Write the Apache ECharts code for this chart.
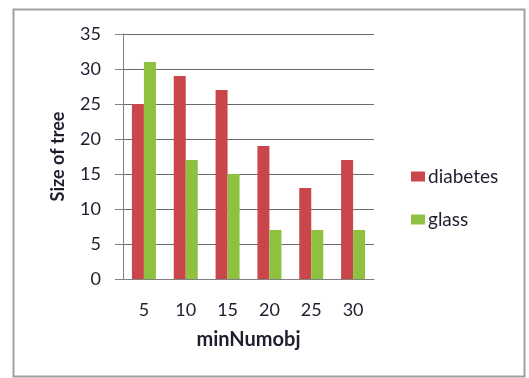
<!DOCTYPE html>
<html>
<head>
<meta charset="utf-8">
<script src="https://cdn.jsdelivr.net/npm/echarts@6/dist/echarts.min.js"></script>
<style>
  html, body { margin: 0; padding: 0; background: #fff; }
  #chart { width: 529px; height: 378px; }
</style>
</head>
<body>
<div id="chart"></div>
<script>
// minNumobj settings and resulting tree sizes
const categories = ['5', '10', '15', '20', '25', '30'];
const diabetes = [25, 29, 27, 19, 13, 17];
const glass = [31, 17, 15, 7, 7, 7];

const FONT = 'Lato, "Open Sans", sans-serif';
const TEXT = '#1e1e2e';
const chart = echarts.init(document.getElementById('chart'), null, { renderer: 'canvas' });

chart.setOption({
  backgroundColor: '#ffffff',
  animation: false,
  graphic: [{
    type: 'rect',
    shape: { x: 13.5, y: 9.5, width: 511, height: 367 },
    style: { fill: 'none', stroke: '#a0a0a0', lineWidth: 2 },
    silent: true
  }],
  grid: { left: 123, right: 155, top: 34, bottom: 99, containLabel: false },
  legend: {
    orient: 'vertical',
    left: 406,
    top: 162,
    itemWidth: 14,
    itemHeight: 10,
    itemGap: 24,
    icon: 'rect',
    textStyle: { fontFamily: FONT, fontSize: 19, color: TEXT, padding: [0, 0, 0, -2] },
    data: ['diabetes', 'glass']
  },
  xAxis: {
    type: 'category',
    data: categories,
    name: 'minNumobj',
    nameLocation: 'middle',
    nameGap: 51,
    nameTextStyle: { fontFamily: FONT, fontSize: 20, fontWeight: 'bold', color: TEXT },
    axisLine: { lineStyle: { color: '#808080', width: 1 } },
    axisTick: { show: false },
    axisLabel: { fontFamily: FONT, fontSize: 18, color: TEXT, margin: 22 }
  },
  yAxis: {
    type: 'value',
    min: 0,
    max: 35,
    interval: 5,
    name: 'Size of tree',
    nameLocation: 'middle',
    nameGap: 56,
    nameTextStyle: { fontFamily: FONT, fontSize: 18, fontWeight: 'bold', color: TEXT },
    axisLine: { show: true, lineStyle: { color: '#808080', width: 1 } },
    axisTick: { show: true, length: 8, lineStyle: { color: '#808080' } },
    axisLabel: { fontFamily: FONT, fontSize: 18, color: TEXT, margin: 22 },
    splitLine: { lineStyle: { color: '#6a6a6a', width: 1 } }
  },
  series: [
    {
      name: 'diabetes',
      type: 'bar',
      data: diabetes,
      barWidth: 12,
      barGap: '0%',
      itemStyle: { color: '#c9474a' }
    },
    {
      name: 'glass',
      type: 'bar',
      data: glass,
      barWidth: 12,
      barGap: '0%',
      itemStyle: { color: '#8ec13f' }
    }
  ]
});
</script>
</body>
</html>
